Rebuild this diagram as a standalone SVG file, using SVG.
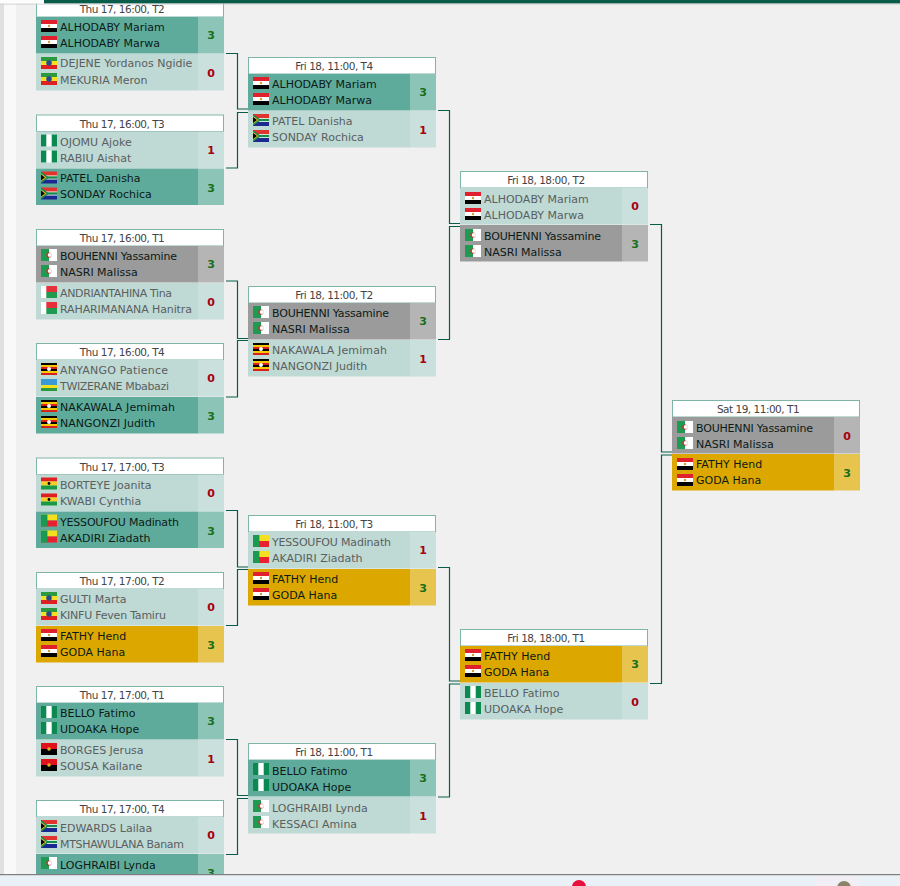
<svg xmlns="http://www.w3.org/2000/svg" width="900" height="886" viewBox="0 0 900 886">
<style>
text{font-family:"DejaVu Sans","Liberation Sans",sans-serif;font-size:11px}
.h{fill:#fff;stroke:#7fb5a8;stroke-width:1}
.ht{fill:#444;text-anchor:middle;font-size:10.5px;letter-spacing:-0.5px}
.rl{fill:#bfd9d5}.sl{fill:#c9e0dc}
.rw{fill:#5fab9b}.sw{fill:#8cc4b7}
.rg{fill:#9b9b9b}.sg{fill:#b5b5b5}
.ry{fill:#dca800}.sy{fill:#e6c44e}
.tl{fill:#5a5f60}.tw{fill:#0c1a18}
.sc{font-weight:bold;text-anchor:middle}
.win{fill:#1a6e1a}.los{fill:#a80010}
.c{fill:none;stroke:#0a5c4a;stroke-width:1.2}
</style>
<defs>
<g id="eg"><rect width="16" height="4" fill="#e0202c"/><rect y="4" width="16" height="4" fill="#fff"/><rect y="8" width="16" height="4" fill="#000"/><circle cx="8" cy="6" r="1.2" fill="#c9a030"/></g>
<g id="et"><rect width="16" height="4" fill="#2a9a40"/><rect y="4" width="16" height="4" fill="#f5e020"/><rect y="8" width="16" height="4" fill="#e02020"/><circle cx="8" cy="6" r="2.8" fill="#2a4a90"/></g>
<g id="ng"><rect width="16" height="12" fill="#fff"/><rect width="5.3" height="12" fill="#0a8a50"/><rect x="10.7" width="5.3" height="12" fill="#0a8a50"/></g>
<g id="za"><rect width="16" height="6" fill="#e0342c"/><rect y="6" width="16" height="6" fill="#1a2a90"/><rect y="4" width="16" height="4" fill="#fff"/><rect y="4.8" width="16" height="2.4" fill="#1a8a4a"/><path d="M0 0L8 6L0 12Z" fill="#1a8a4a"/><path d="M0 2L5.5 6L0 10Z" fill="#f0c020"/><path d="M0 3L4 6L0 9Z" fill="#000"/></g>
<g id="dz"><rect width="16" height="12" fill="#fff"/><rect width="8" height="12" fill="#1f9a50"/><circle cx="8" cy="6" r="2.6" fill="#d82030"/><circle cx="8.8" cy="6" r="2.1" fill="#fff"/></g>
<g id="mg"><rect width="16" height="12" fill="#fff"/><rect x="5.3" width="10.7" height="6" fill="#e8303a"/><rect x="5.3" y="6" width="10.7" height="6" fill="#1f9a50"/></g>
<g id="ug"><rect width="16" height="2" fill="#000"/><rect y="2" width="16" height="2" fill="#f5c800"/><rect y="4" width="16" height="2" fill="#d82020"/><rect y="6" width="16" height="2" fill="#000"/><rect y="8" width="16" height="2" fill="#f5c800"/><rect y="10" width="16" height="2" fill="#d82020"/><circle cx="8" cy="6" r="2" fill="#fff"/></g>
<g id="rw"><rect width="16" height="6" fill="#3a9ad8"/><rect y="6" width="16" height="3" fill="#f5e020"/><rect y="9" width="16" height="3" fill="#2a9a40"/></g>
<g id="gh"><rect width="16" height="4" fill="#e02020"/><rect y="4" width="16" height="4" fill="#f5d020"/><rect y="8" width="16" height="4" fill="#1a9a40"/><circle cx="8" cy="6" r="1.4" fill="#000"/></g>
<g id="bj"><rect width="16" height="6" fill="#f5e020"/><rect y="6" width="16" height="6" fill="#e82030"/><rect width="6.4" height="12" fill="#1a9a50"/></g>
<g id="ao"><rect width="16" height="6" fill="#e0101c"/><rect y="6" width="16" height="6" fill="#000"/><circle cx="8" cy="6" r="1.8" fill="#e0b020"/></g>
</defs>
<rect width="900" height="886" fill="#f0f0f0"/>
<rect width="4" height="886" fill="#e0e0e0"/>
<rect x="4" width="12" height="886" fill="#f9f9f9"/>

<g id="connectors">
<path class="c" d="M226 53.5H237.5V109H248M226 168H237.5V112.5H248"/>
<path class="c" d="M226 281H237.5V338.5H248M226 397H237.5V340.5H248"/>
<path class="c" d="M226 510.5H237.5V567H248M226 625.5H237.5V569.5H248"/>
<path class="c" d="M226 739.5H237.5V795.5H248M226 854.5H237.5V798.5H248"/>
<path class="c" d="M438 110.5H449.5V223.5H460M438 339.5H449.5V226.5H460"/>
<path class="c" d="M438 567.5H449.5V681H460M438 797H449.5V684H460"/>
<path class="c" d="M650 224.5H661.5V452H672M650 683.5H661.5V455H672"/>
</g>

<g id="m1" transform="translate(36,0)">
<rect class="h" x="0.5" y="0.5" width="187" height="16.5"/><text class="ht" x="86" y="13">Thu 17, 16:00, T2</text>
<rect class="rw" y="17" width="162" height="36.5"/><rect class="sw" x="162" y="17" width="26" height="36.5"/>
<use href="#eg" x="5" y="20"/><use href="#eg" x="5" y="36"/>
<text class="tw" x="24" y="31">ALHODABY Mariam</text><text class="tw" x="24" y="47">ALHODABY Marwa</text><text class="sc win" x="175" y="39">3</text>
<rect class="rl" y="54" width="162" height="36.5"/><rect class="sl" x="162" y="54" width="26" height="36.5"/>
<use href="#et" x="5" y="57"/><use href="#et" x="5" y="73"/>
<text class="tl" x="24" y="67">DEJENE Yordanos Ngidie</text><text class="tl" x="24" y="84">MEKURIA Meron</text><text class="sc los" x="175" y="77">0</text>
</g>

<g id="m2" transform="translate(36,114.5)">
<rect class="h" x="0.5" y="0.5" width="187" height="16.5"/><text class="ht" x="86" y="13">Thu 17, 16:00, T3</text>
<rect class="rl" y="17" width="162" height="36.5"/><rect class="sl" x="162" y="17" width="26" height="36.5"/>
<use href="#ng" x="5" y="20"/><use href="#ng" x="5" y="36"/>
<text class="tl" x="24" y="31">OJOMU Ajoke</text><text class="tl" x="24" y="47">RABIU Aishat</text><text class="sc los" x="175" y="39">1</text>
<rect class="rw" y="54" width="162" height="36.5"/><rect class="sw" x="162" y="54" width="26" height="36.5"/>
<use href="#za" x="5" y="57"/><use href="#za" x="5" y="73"/>
<text class="tw" x="24" y="67">PATEL Danisha</text><text class="tw" x="24" y="83">SONDAY Rochica</text><text class="sc win" x="175" y="77">3</text>
</g>

<g id="m3" transform="translate(36,229)">
<rect class="h" x="0.5" y="0.5" width="187" height="16.5"/><text class="ht" x="86" y="13">Thu 17, 16:00, T1</text>
<rect class="rg" y="17" width="162" height="36.5"/><rect class="sg" x="162" y="17" width="26" height="36.5"/>
<use href="#dz" x="5" y="20"/><use href="#dz" x="5" y="36"/>
<text class="tw" x="24" y="31" textLength="117">BOUHENNI Yassamine</text><text class="tw" x="24" y="47">NASRI Malissa</text><text class="sc win" x="175" y="39">3</text>
<rect class="rl" y="54" width="162" height="36.5"/><rect class="sl" x="162" y="54" width="26" height="36.5"/>
<use href="#mg" x="5" y="57"/><use href="#mg" x="5" y="73"/>
<text class="tl" x="24" y="68" textLength="112">ANDRIANTAHINA Tina</text><text class="tl" x="24" y="84" textLength="132">RAHARIMANANA Hanitra</text><text class="sc los" x="175" y="77">0</text>
</g>

<g id="m4" transform="translate(36,343)">
<rect class="h" x="0.5" y="0.5" width="187" height="16.5"/><text class="ht" x="86" y="13">Thu 17, 16:00, T4</text>
<rect class="rl" y="17" width="162" height="36.5"/><rect class="sl" x="162" y="17" width="26" height="36.5"/>
<use href="#ug" x="5" y="20"/><use href="#rw" x="5" y="36"/>
<text class="tl" x="24" y="31" textLength="108">ANYANGO Patience</text><text class="tl" x="24" y="47" textLength="109">TWIZERANE Mbabazi</text><text class="sc los" x="175" y="39">0</text>
<rect class="rw" y="54" width="162" height="36.5"/><rect class="sw" x="162" y="54" width="26" height="36.5"/>
<use href="#ug" x="5" y="57"/><use href="#ug" x="5" y="73"/>
<text class="tw" x="24" y="68" textLength="115">NAKAWALA Jemimah</text><text class="tw" x="24" y="84">NANGONZI Judith</text><text class="sc win" x="175" y="77">3</text>
</g>

<g id="m5" transform="translate(36,457.5)">
<rect class="h" x="0.5" y="0.5" width="187" height="16.5"/><text class="ht" x="86" y="13">Thu 17, 17:00, T3</text>
<rect class="rl" y="17" width="162" height="36.5"/><rect class="sl" x="162" y="17" width="26" height="36.5"/>
<use href="#gh" x="5" y="20"/><use href="#gh" x="5" y="36"/>
<text class="tl" x="24" y="31">BORTEYE Joanita</text><text class="tl" x="24" y="47">KWABI Cynthia</text><text class="sc los" x="175" y="39">0</text>
<rect class="rw" y="54" width="162" height="36.5"/><rect class="sw" x="162" y="54" width="26" height="36.5"/>
<use href="#bj" x="5" y="57"/><use href="#bj" x="5" y="73"/>
<text class="tw" x="24" y="68" textLength="119">YESSOUFOU Madinath</text><text class="tw" x="24" y="84">AKADIRI Ziadath</text><text class="sc win" x="175" y="77">3</text>
</g>

<g id="m6" transform="translate(36,572)">
<rect class="h" x="0.5" y="0.5" width="187" height="16.5"/><text class="ht" x="86" y="13">Thu 17, 17:00, T2</text>
<rect class="rl" y="17" width="162" height="36.5"/><rect class="sl" x="162" y="17" width="26" height="36.5"/>
<use href="#et" x="5" y="20"/><use href="#et" x="5" y="36"/>
<text class="tl" x="24" y="31">GULTI Marta</text><text class="tl" x="24" y="47" textLength="106">KINFU Feven Tamiru</text><text class="sc los" x="175" y="39">0</text>
<rect class="ry" y="54" width="162" height="36.5"/><rect class="sy" x="162" y="54" width="26" height="36.5"/>
<use href="#eg" x="5" y="57"/><use href="#eg" x="5" y="73"/>
<text class="tw" x="24" y="68">FATHY Hend</text><text class="tw" x="24" y="84">GODA Hana</text><text class="sc win" x="175" y="77">3</text>
</g>

<g id="m7" transform="translate(36,686)">
<rect class="h" x="0.5" y="0.5" width="187" height="16.5"/><text class="ht" x="86" y="13">Thu 17, 17:00, T1</text>
<rect class="rw" y="17" width="162" height="36.5"/><rect class="sw" x="162" y="17" width="26" height="36.5"/>
<use href="#ng" x="5" y="20"/><use href="#ng" x="5" y="36"/>
<text class="tw" x="24" y="31">BELLO Fatimo</text><text class="tw" x="24" y="47">UDOAKA Hope</text><text class="sc win" x="175" y="39">3</text>
<rect class="rl" y="54" width="162" height="36.5"/><rect class="sl" x="162" y="54" width="26" height="36.5"/>
<use href="#ao" x="5" y="57"/><use href="#ao" x="5" y="73"/>
<text class="tl" x="24" y="68">BORGES Jerusa</text><text class="tl" x="24" y="84">SOUSA Kailane</text><text class="sc los" x="175" y="77">1</text>
</g>

<g id="m8" transform="translate(36,800)">
<rect class="h" x="0.5" y="0.5" width="187" height="16.5"/><text class="ht" x="86" y="13">Thu 17, 17:00, T4</text>
<rect class="rl" y="17" width="162" height="36.5"/><rect class="sl" x="162" y="17" width="26" height="36.5"/>
<use href="#za" x="5" y="20"/><use href="#za" x="5" y="36"/>
<text class="tl" x="24" y="32">EDWARDS Lailaa</text><text class="tl" x="24" y="48" textLength="124">MTSHAWULANA Banam</text><text class="sc los" x="175" y="39">0</text>
<rect class="rw" y="54" width="162" height="36.5"/><rect class="sw" x="162" y="54" width="26" height="36.5"/>
<use href="#dz" x="5" y="57"/>
<text class="tw" x="24" y="69">LOGHRAIBI Lynda</text><text class="sc win" x="175" y="77">3</text>
</g>

<g id="q1" transform="translate(248,57)">
<rect class="h" x="0.5" y="0.5" width="187" height="16.5"/><text class="ht" x="86" y="13">Fri 18, 11:00, T4</text>
<rect class="rw" y="17" width="162" height="36.5"/><rect class="sw" x="162" y="17" width="26" height="36.5"/>
<use href="#eg" x="5" y="20"/><use href="#eg" x="5" y="36"/>
<text class="tw" x="24" y="31">ALHODABY Mariam</text><text class="tw" x="24" y="47">ALHODABY Marwa</text><text class="sc win" x="175" y="39">3</text>
<rect class="rl" y="54" width="162" height="36.5"/><rect class="sl" x="162" y="54" width="26" height="36.5"/>
<use href="#za" x="5" y="57"/><use href="#za" x="5" y="73"/>
<text class="tl" x="24" y="68">PATEL Danisha</text><text class="tl" x="24" y="84">SONDAY Rochica</text><text class="sc los" x="175" y="77">1</text>
</g>

<g id="q2" transform="translate(248,286)">
<rect class="h" x="0.5" y="0.5" width="187" height="16.5"/><text class="ht" x="86" y="13">Fri 18, 11:00, T2</text>
<rect class="rg" y="17" width="162" height="36.5"/><rect class="sg" x="162" y="17" width="26" height="36.5"/>
<use href="#dz" x="5" y="20"/><use href="#dz" x="5" y="36"/>
<text class="tw" x="24" y="31" textLength="117">BOUHENNI Yassamine</text><text class="tw" x="24" y="47">NASRI Malissa</text><text class="sc win" x="175" y="39">3</text>
<rect class="rl" y="54" width="162" height="36.5"/><rect class="sl" x="162" y="54" width="26" height="36.5"/>
<use href="#ug" x="5" y="57"/><use href="#ug" x="5" y="73"/>
<text class="tl" x="24" y="68" textLength="115">NAKAWALA Jemimah</text><text class="tl" x="24" y="84">NANGONZI Judith</text><text class="sc los" x="175" y="77">1</text>
</g>

<g id="q3" transform="translate(248,515)">
<rect class="h" x="0.5" y="0.5" width="187" height="16.5"/><text class="ht" x="86" y="13">Fri 18, 11:00, T3</text>
<rect class="rl" y="17" width="162" height="36.5"/><rect class="sl" x="162" y="17" width="26" height="36.5"/>
<use href="#bj" x="5" y="20"/><use href="#bj" x="5" y="36"/>
<text class="tl" x="24" y="31" textLength="119">YESSOUFOU Madinath</text><text class="tl" x="24" y="47">AKADIRI Ziadath</text><text class="sc los" x="175" y="39">1</text>
<rect class="ry" y="54" width="162" height="36.5"/><rect class="sy" x="162" y="54" width="26" height="36.5"/>
<use href="#eg" x="5" y="57"/><use href="#eg" x="5" y="73"/>
<text class="tw" x="24" y="68">FATHY Hend</text><text class="tw" x="24" y="84">GODA Hana</text><text class="sc win" x="175" y="77">3</text>
</g>

<g id="q4" transform="translate(248,743)">
<rect class="h" x="0.5" y="0.5" width="187" height="16.5"/><text class="ht" x="86" y="13">Fri 18, 11:00, T1</text>
<rect class="rw" y="17" width="162" height="36.5"/><rect class="sw" x="162" y="17" width="26" height="36.5"/>
<use href="#ng" x="5" y="20"/><use href="#ng" x="5" y="36"/>
<text class="tw" x="24" y="32">BELLO Fatimo</text><text class="tw" x="24" y="48">UDOAKA Hope</text><text class="sc win" x="175" y="39">3</text>
<rect class="rl" y="54" width="162" height="36.5"/><rect class="sl" x="162" y="54" width="26" height="36.5"/>
<use href="#dz" x="5" y="57"/><use href="#dz" x="5" y="73"/>
<text class="tl" x="24" y="69">LOGHRAIBI Lynda</text><text class="tl" x="24" y="85">KESSACI Amina</text><text class="sc los" x="175" y="77">1</text>
</g>

<g id="s1" transform="translate(460,171)">
<rect class="h" x="0.5" y="0.5" width="187" height="16.5"/><text class="ht" x="86" y="13">Fri 18, 18:00, T2</text>
<rect class="rl" y="17" width="162" height="36.5"/><rect class="sl" x="162" y="17" width="26" height="36.5"/>
<use href="#eg" x="5" y="21"/><use href="#eg" x="5" y="37"/>
<text class="tl" x="24" y="32">ALHODABY Mariam</text><text class="tl" x="24" y="48">ALHODABY Marwa</text><text class="sc los" x="175" y="39">0</text>
<rect class="rg" y="54" width="162" height="36.5"/><rect class="sg" x="162" y="54" width="26" height="36.5"/>
<use href="#dz" x="5" y="58"/><use href="#dz" x="5" y="74"/>
<text class="tw" x="24" y="69" textLength="117">BOUHENNI Yassamine</text><text class="tw" x="24" y="85">NASRI Malissa</text><text class="sc win" x="175" y="77">3</text>
</g>

<g id="s2" transform="translate(460,629)">
<rect class="h" x="0.5" y="0.5" width="187" height="16.5"/><text class="ht" x="86" y="13">Fri 18, 18:00, T1</text>
<rect class="ry" y="17" width="162" height="36.5"/><rect class="sy" x="162" y="17" width="26" height="36.5"/>
<use href="#eg" x="5" y="20"/><use href="#eg" x="5" y="36"/>
<text class="tw" x="24" y="31">FATHY Hend</text><text class="tw" x="24" y="47">GODA Hana</text><text class="sc win" x="175" y="39">3</text>
<rect class="rl" y="54" width="162" height="36.5"/><rect class="sl" x="162" y="54" width="26" height="36.5"/>
<use href="#ng" x="5" y="57"/><use href="#ng" x="5" y="73"/>
<text class="tl" x="24" y="68">BELLO Fatimo</text><text class="tl" x="24" y="84">UDOAKA Hope</text><text class="sc los" x="175" y="77">0</text>
</g>

<g id="f1" transform="translate(672,400)">
<rect class="h" x="0.5" y="0.5" width="187" height="16.5"/><text class="ht" x="86" y="13">Sat 19, 11:00, T1</text>
<rect class="rg" y="17" width="162" height="36.5"/><rect class="sg" x="162" y="17" width="26" height="36.5"/>
<use href="#dz" x="5" y="21"/><use href="#dz" x="5" y="37"/>
<text class="tw" x="24" y="32" textLength="117">BOUHENNI Yassamine</text><text class="tw" x="24" y="48">NASRI Malissa</text><text class="sc los" x="175" y="40">0</text>
<rect class="ry" y="54" width="162" height="36.5"/><rect class="sy" x="162" y="54" width="26" height="36.5"/>
<use href="#eg" x="5" y="58"/><use href="#eg" x="5" y="74"/>
<text class="tw" x="24" y="68">FATHY Hend</text><text class="tw" x="24" y="84">GODA Hana</text><text class="sc win" x="175" y="77">3</text>
</g>

<rect x="0" y="0" width="44" height="3.5" fill="#fdfdfd"/>
<rect x="44" y="0" width="856" height="3.5" fill="#0a5c4a"/>
<rect x="0" y="3.5" width="900" height="1.5" fill="#cfd4d2" opacity="0.6"/>
<rect y="875" width="900" height="11" fill="#e9f1f6"/>
<rect y="874" width="900" height="1.2" fill="#7d7d7d"/>
<rect x="816" y="876" width="44" height="10" fill="#f1eef6"/>
<circle cx="579" cy="887" r="7" fill="#e8103c"/>
<circle cx="844" cy="888" r="7" fill="#8a8468"/>
</svg>
